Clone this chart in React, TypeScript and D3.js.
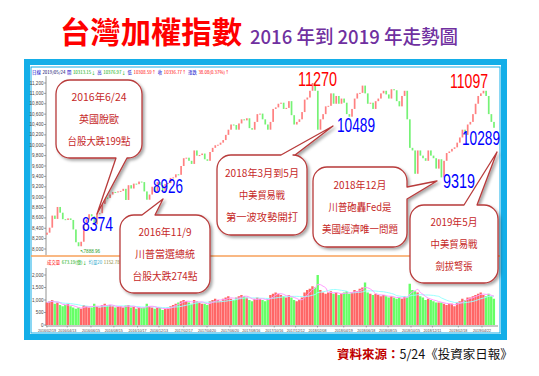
import React, { useLayoutEffect, useRef } from 'react';
import * as d3 from 'd3';

// ---------------- DATA ----------------
const START_DATE = '2016-02-19';
// weekly closes
const closes2016 = [8315, 8411, 8644, 8580, 8810, 8700, 8575, 8560, 8590, 8560, 8377, 8130, 8053, 8140, 8463, 8570, 8670, 8630, 8476, 8680, 8690, 8870, 8990, 8984, 9050, 9100, 9090, 9110, 9120, 9160, 8945, 9230, 9166, 9260, 9250, 9300, 9290, 9110, 8950, 9050, 9200, 9100, 9290, 9230, 9120, 9253];
const closes2017 = [9270, 9370, 9380, 9440, 9430, 9600, 9750, 9760, 9700, 9640, 9900, 9800, 9811, 9840, 9730, 9700, 9870, 9950, 10000, 10010, 10050, 10100, 10200, 10300, 10400, 10390, 10300, 10420, 10500, 10480, 10520, 10330, 10300, 10450, 10600, 10610, 10500, 10400, 10300, 10450, 10700, 10730, 10800, 10820, 10700, 10720, 10850, 10580, 10400, 10450, 10500, 10640];
const closes2018 = [10880, 10920, 11050, 11200, 11050, 10300, 10500, 10600, 10750, 10760, 11000, 10800, 10950, 10800, 10900, 10820, 10600, 10550, 10700, 10900, 11000, 11010, 11150, 11000, 10800, 10820, 10700, 10850, 10900, 11000, 11050, 10980, 10900, 11080, 11060, 10850, 10750, 10950, 11050, 10500, 9950, 9900, 9450, 9900, 9800, 9750, 9700, 9900, 9800, 9750, 9550, 9730];
const closes2019 = [9380, 9700, 9850, 9880, 9930, 9960, 10050, 10150, 10300, 10200, 10400, 10450, 10600, 10800, 10950, 11000, 11050, 10950, 10600, 10450, 10337];
// weekly average volume (億)
const volumes2016 = [900, 950, 1000, 850, 900, 800, 750, 800, 850, 750, 700, 650, 700, 650, 800, 750, 700, 700, 850, 750, 700, 800, 850, 780, 800, 750, 700, 720, 750, 700, 780, 800, 700, 720, 650, 700, 680, 700, 850, 750, 700, 650, 700, 680, 600, 650];
const volumes2017 = [700, 750, 800, 850, 900, 950, 1000, 950, 900, 850, 1000, 950, 900, 850, 850, 800, 950, 1000, 1050, 1000, 950, 1050, 1100, 1150, 1050, 1000, 1100, 1150, 1200, 1150, 1100, 1000, 950, 1050, 1100, 1050, 1000, 950, 1050, 1200, 1250, 1300, 1250, 1200, 1150, 1100, 1200, 1100, 1000, 950, 1000, 1100];
const volumes2018 = [1300, 1400, 1450, 1550, 1500, 2000, 1400, 1300, 1250, 1300, 1350, 1250, 1300, 1200, 1250, 1300, 1350, 1250, 1300, 1400, 1350, 1450, 1500, 1700, 1300, 1250, 1200, 1250, 1200, 1150, 1200, 1150, 1100, 1150, 1100, 1050, 1100, 1050, 1150, 1100, 1650, 1400, 1350, 1300, 1150, 1100, 1000, 1050, 1000, 950, 900, 900];
const volumes2019 = [900, 850, 800, 850, 850, 750, 900, 950, 1050, 1000, 1100, 1100, 1150, 1200, 1250, 1300, 1200, 1150, 1250, 1150, 1050];

const xTickLabels = ['2016/02/19', '2016/04/13', '2016/06/15', '2016/08/15', '2016/10/17', '2016/12/13', '2017/02/17', '2017/04/20', '2017/06/20', '2017/08/16', '2017/10/16', '2017/12/12', '2018/02/08', '2018/04/19', '2018/06/18', '2018/08/15', '2018/10/15', '2018/12/11', '2019/02/18', '2019/04/22'];
const priceTicks = [11200, 11000, 10800, 10600, 10400, 10200, 10000, 9800, 9600, 9400, 9200, 9000, 8800, 8600, 8400, 8200, 8000];
const volumeTicks = [0, 500, 1000, 1500, 2000];

const headerItems = ['日線', '2019/05/24', '開', '10313.15↓', '高', '10376.97↓', '低', '10308.59↑', '收', '10336.77↑', '漲跌', '38.08(0.37%)↑'];
const volumeHeaderItems = ['成交量', '673.19(億)↓', '均量20', '1152.78(億)'];

const keyLows = ['8374', '8926', '10489', '9319', '10289'];
const keyHighs = ['11270', '11097'];
const bubbleTexts = [
  ['2016年6/24', '英國脫歐', '台股大跌199點'],
  ['2016年11/9', '川普當選總統', '台股大跌274點'],
  ['2018年3月到5月', '中美貿易戰', '第一波攻勢開打'],
  ['2018年12月', '川普砲轟Fed是', '美國經濟唯一問題'],
  ['2019年5月', '中美貿易戰', '劍拔弩張'],
];
const titleMain = '台灣加權指數';
const titleSub = '2016 年到 2019 年走勢圖';
const sourceLabel = '資料來源：';
const sourceText = '5/24《投資家日報》';
const lowMark = '↖7888.96';

// ---------------- LAYOUT ----------------
const CJK = '"Noto Sans CJK TC", "Noto Sans", sans-serif';
const NUM = '"Liberation Sans", Arial, sans-serif';
const PLOT_L = 47, PLOT_R = 494;

const headerColors = ['#0000cc', '#000066', '#0000cc', '#00aa00', '#0000cc', '#00aa00', '#0000cc', '#ff0000', '#0000cc', '#ff0000', '#0000cc', '#ff0000'];
const volumeHeaderColors = ['#ff0000', '#00aa00', '#33aacc', '#888833'];
const lowLayout = [
  { x: 82, y: 231, w: 31 },
  { x: 153, y: 193, w: 30 },
  { x: 337, y: 132, w: 38 },
  { x: 443, y: 188, w: 32 },
  { x: 462, y: 145, w: 38 },
];
const highLayout = [
  { x: 298, y: 86, w: 39 },
  { x: 450, y: 88, w: 38 },
];
const bubbleLayout = [
  { x: 56, y: 80, w: 86, h: 78, side: 'bottom', b1: 116, b2: 127, tx: 97, ty: 214, widths: [55, 40, 63] },
  { x: 120, y: 215, w: 90, h: 78, side: 'top', b1: 142, b2: 155, tx: 163, ty: 199, widths: [53, 60, 65] },
  { x: 217, y: 155, w: 90, h: 80, side: 'top', b1: 281, b2: 295, tx: 333, ty: 126, widths: [74, 46, 72] },
  { x: 313, y: 167, w: 94, h: 80, side: 'right', b1: 187, b2: 199, tx: 437, ty: 181, widths: [53, 63, 76] },
  { x: 410, y: 205, w: 88, h: 78, side: 'top', b1: 464, b2: 477, tx: 497, ty: 152, widths: [47, 47, 37] },
];

function bubblePath(b: any, r = 14) {
  const { x, y, w, h, side, b1, b2, tx, ty } = b;
  const R = x + w, B = y + h;
  let p = `M${x + r},${y}`;
  if (side === 'top') p += `L${b1},${y}L${tx},${ty}L${b2},${y}`;
  p += `L${R - r},${y}A${r},${r} 0 0 1 ${R},${y + r}`;
  if (side === 'right') p += `L${R},${b1}L${tx},${ty}L${R},${b2}`;
  p += `L${R},${B - r}A${r},${r} 0 0 1 ${R - r},${B}`;
  if (side === 'bottom') p += `L${b2},${B}L${tx},${ty}L${b1},${B}`;
  p += `L${x + r},${B}A${r},${r} 0 0 1 ${x},${B - r}L${x},${y + r}A${r},${r} 0 0 1 ${x + r},${y}Z`;
  return p;
}

// lays texts of a group one after another using their real widths
function useFlow(ref: React.RefObject<SVGGElement>, x0: number, gap: number) {
  useLayoutEffect(() => {
    const g = ref.current;
    if (!g) return;
    let cx = x0;
    g.querySelectorAll('text').forEach((t) => {
      t.setAttribute('x', String(cx));
      cx += (t as SVGTextElement).getComputedTextLength() + gap;
    });
  }, []);
}

export default function App() {
  const headerRef = useRef<SVGGElement>(null);
  const volHeaderRef = useRef<SVGGElement>(null);
  useFlow(headerRef, 32, 1.6);
  useFlow(volHeaderRef, 47, 1.6);

  const closes = [...closes2016, ...closes2017, ...closes2018, ...closes2019];
  const volumes = [...volumes2016, ...volumes2017, ...volumes2018, ...volumes2019];
  const start = d3.timeParse('%Y-%m-%d')(START_DATE)!;
  const dates = closes.map((_, i) => d3.timeDay.offset(start, i * 7));
  const parseTick = d3.timeParse('%Y/%m/%d');

  const x = d3.scaleTime().domain([dates[0], dates[dates.length - 1]]).range([PLOT_L, PLOT_R]);
  const yP = d3.scaleLinear().domain([8000, 11200]).range([249, 83]);
  const yV = d3.scaleLinear().domain([0, 2000]).range([325, 275]);
  const step = (PLOT_R - PLOT_L) / (closes.length - 1);
  const bw = Math.max(1.2, step * 0.65);

  const candles = closes.map((c, i) => {
    const o = i === 0 ? closes[0] - 40 : closes[i - 1];
    return { d: dates[i], o, c, up: c >= o, v: volumes[i] };
  });

  const ma = (n: number) =>
    volumes.map((_, i) => d3.mean(volumes.slice(Math.max(0, i - n + 1), i + 1)) as number);
  const ma4 = ma(4);
  const ma12 = ma(12);
  const line = d3.line<number>().x((_, i) => x(dates[i])).y((v) => yV(v)).curve(d3.curveMonotoneX);

  const fmt = d3.format(',');
  const RED = '#ff6b6b', GREEN = '#5ef05e';

  return (
    <svg width={539} height={376} style={{ position: 'absolute', left: 0, top: 0, background: '#fff' }}>
      <defs>
        <filter id="sh" x="-20%" y="-20%" width="140%" height="140%">
          <feDropShadow dx="2" dy="2" stdDeviation="1.4" floodColor="#000" floodOpacity="0.35" />
        </filter>
      </defs>
      <rect x={0} y={0} width={539} height={376} fill="#fff" />

      {/* Title */}
      <text x={60} y={43} fontFamily={CJK} fontSize={30} fontWeight={700} fill="#ff0000" textLength={182} lengthAdjust="spacingAndGlyphs">{titleMain}</text>
      <text x={250} y={44} fontFamily={CJK} fontSize={19} fontWeight={500} fill="#7030a0" textLength={208} lengthAdjust="spacingAndGlyphs">{titleSub}</text>

      {/* Frame */}
      <rect x={27} y={62} width={477} height={275} fill="#fff" stroke="#14aee8" strokeWidth={6} />
      <rect x={31} y={67} width={469} height={266} fill="none" stroke="#14aee8" strokeWidth={1} />

      {/* header info */}
      <g ref={headerRef}>
        {headerItems.map((s, i) => (
          <text key={i} x={32} y={73.5} fontFamily={CJK} fontSize={4.4} fill={headerColors[i]}>{s}</text>
        ))}
      </g>

      {/* price axis */}
      <line x1={46} x2={46} y1={76} y2={255} stroke="#777" strokeWidth={0.8} />
      {priceTicks.map((t) => (
        <g key={t}>
          <line x1={44} x2={46} y1={yP(t)} y2={yP(t)} stroke="#777" strokeWidth={0.7} />
          <text x={43.5} y={yP(t) + 1.6} textAnchor="end" fontFamily={NUM} fontSize={4.6} fill="#444">{fmt(t)}</text>
        </g>
      ))}

      {/* candles */}
      {candles.map((k, i) => {
        const y1 = yP(Math.max(k.o, k.c));
        const y2 = yP(Math.min(k.o, k.c));
        return (
          <rect key={i} x={x(k.d) - bw / 2} y={y1} width={bw} height={Math.max(1, y2 - y1)} fill={k.up ? RED : GREEN} opacity={0.85} />
        );
      })}
      <text x={x(dates[12]) + 1} y={253} fontFamily={NUM} fontSize={4.6} fill="#2f9f2f">{lowMark}</text>

      {/* separator */}
      <line x1={31} x2={500} y1={256} y2={256} stroke="#f7a15a" strokeWidth={1.6} />

      {/* volume header */}
      <g ref={volHeaderRef}>
        {volumeHeaderItems.map((s, i) => (
          <text key={i} x={47} y={264} fontFamily={CJK} fontSize={4.4} fill={volumeHeaderColors[i]}>{s}</text>
        ))}
      </g>

      {/* volume axis */}
      <line x1={46} x2={46} y1={268} y2={326} stroke="#777" strokeWidth={0.8} />
      {volumeTicks.map((t) => (
        <g key={t}>
          <line x1={44} x2={46} y1={yV(t)} y2={yV(t)} stroke="#777" strokeWidth={0.7} />
          <text x={43.5} y={yV(t) + 1.6} textAnchor="end" fontFamily={NUM} fontSize={4.6} fill="#444">{fmt(t)}</text>
        </g>
      ))}
      {candles.map((k, i) => (
        <rect key={i} x={x(k.d) - step / 2} y={yV(k.v)} width={step * 0.9} height={yV(0) - yV(k.v)} fill={k.up ? '#ff5555' : '#55ff55'} opacity={0.9} />
      ))}
      <path d={line(ma12) || ''} fill="none" stroke="#99ffff" strokeWidth={1} />
      <path d={line(ma4) || ''} fill="none" stroke="#ff99ff" strokeWidth={1} />

      {/* x axis */}
      <line x1={46} x2={498} y1={326} y2={326} stroke="#777" strokeWidth={0.8} />
      {xTickLabels.map((t) => {
        const px = x(parseTick(t)!);
        return (
          <g key={t}>
            <line x1={px} x2={px} y1={326} y2={327.5} stroke="#777" strokeWidth={0.6} />
            <text x={px} y={331.5} textAnchor="middle" fontFamily={NUM} fontSize={4.4} fill="#444" textLength={18} lengthAdjust="spacingAndGlyphs">{t}</text>
          </g>
        );
      })}

      {/* key numbers */}
      {keyLows.map((t, i) => (
        <text key={t} x={lowLayout[i].x} y={lowLayout[i].y} fontFamily={NUM} fontSize={20} fill="#0000ff" textLength={lowLayout[i].w} lengthAdjust="spacingAndGlyphs">{t}</text>
      ))}
      {keyHighs.map((t, i) => (
        <text key={t} x={highLayout[i].x} y={highLayout[i].y} fontFamily={NUM} fontSize={20} fill="#ff0000" textLength={highLayout[i].w} lengthAdjust="spacingAndGlyphs">{t}</text>
      ))}

      {/* bubbles */}
      {bubbleLayout.map((b, i) => {
        const cx = b.x + b.w / 2;
        const cy = b.y + b.h / 2;
        return (
          <g key={i}>
            <path d={bubblePath(b)} fill="#fff" stroke="#b83b3b" strokeWidth={1.3} strokeLinejoin="round" filter="url(#sh)" />
            {bubbleTexts[i].map((s, j) => (
              <text key={j} x={cx} y={cy + (j - 1) * 22 + 4} textAnchor="middle" fontFamily={CJK} fontSize={10.5} fill="#c62828" textLength={b.widths[j]} lengthAdjust="spacingAndGlyphs">{s}</text>
            ))}
          </g>
        );
      })}

      {/* source */}
      <text x={337} y={359} fontFamily={CJK} fontSize={12.5}>
        <tspan fill="#c00000" fontWeight={700}>{sourceLabel}</tspan>
        <tspan fill="#111">{sourceText}</tspan>
      </text>
    </svg>
  );
}
